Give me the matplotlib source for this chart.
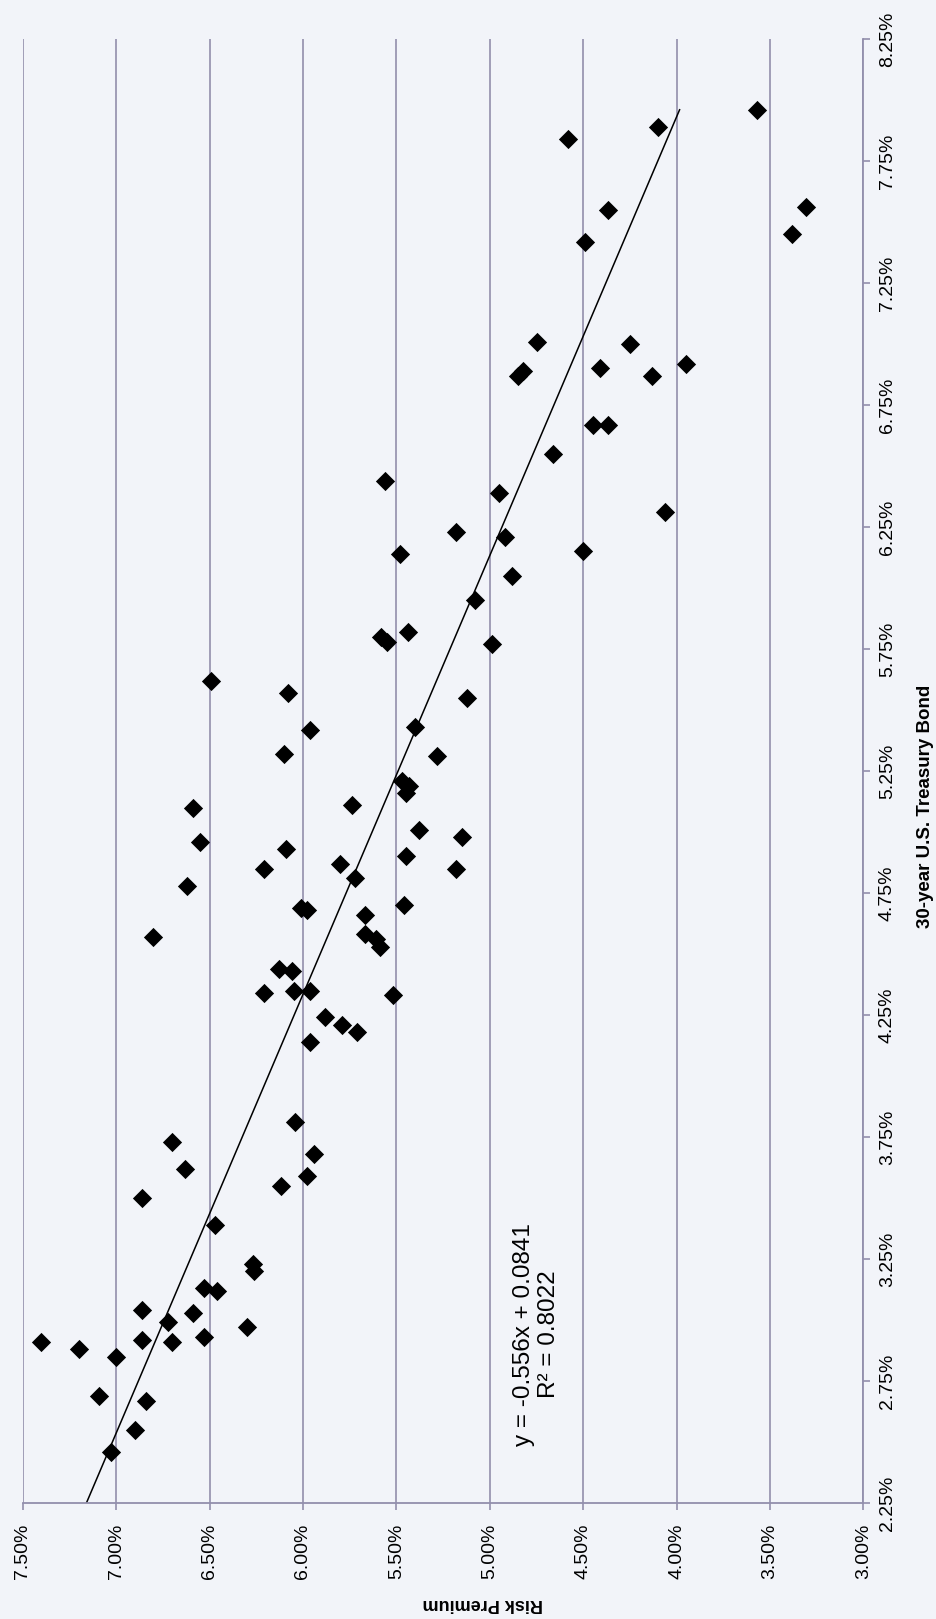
import numpy as np
import matplotlib
matplotlib.use("Agg")
import matplotlib.pyplot as plt

# risk premium (%) vs 30-year treasury yield (%)
risk_premium = [3.57, 4.10, 4.58, 4.37, 3.31, 3.38, 4.49, 4.75, 4.25, 4.85, 4.82, 4.41, 4.13, 3.95,
                4.45, 4.37, 4.66, 5.56, 4.95, 4.06, 5.18, 4.92, 5.48, 4.50, 4.88, 5.08, 5.58, 5.55,
                5.44, 4.99, 6.49, 6.08, 5.12, 5.96, 5.40, 6.10, 5.28, 5.47, 5.43, 5.45, 6.59, 5.74,
                5.38, 6.55, 5.15, 6.09, 5.45, 6.21, 5.80, 5.18, 5.72, 6.62, 6.01, 5.98, 5.46, 5.67,
                6.80, 5.67, 5.61, 5.59, 6.13, 6.06, 6.21, 6.05, 5.96, 5.52, 5.88, 5.79, 5.71, 5.96,
                6.04, 6.70, 6.63, 5.94, 5.98, 6.12, 6.86, 6.47, 6.27, 6.26, 6.53, 6.46, 6.59, 6.86,
                6.72, 6.30, 6.86, 6.70, 6.53, 7.40, 7.20, 7.00, 7.09, 6.84, 6.90, 7.03]
treasury = [7.96, 7.89, 7.84, 7.55, 7.56, 7.45, 7.42, 7.01, 7.00, 6.87, 6.89, 6.90, 6.87, 6.92,
            6.67, 6.67, 6.55, 6.44, 6.39, 6.31, 6.23, 6.21, 6.14, 6.15, 6.05, 5.95, 5.80, 5.78,
            5.82, 5.77, 5.62, 5.57, 5.55, 5.42, 5.43, 5.32, 5.31, 5.21, 5.19, 5.16, 5.10, 5.11,
            5.01, 4.96, 4.98, 4.93, 4.90, 4.85, 4.87, 4.85, 4.81, 4.78, 4.69, 4.68, 4.70, 4.66,
            4.57, 4.58, 4.56, 4.53, 4.44, 4.43, 4.34, 4.35, 4.35, 4.33, 4.24, 4.21, 4.18, 4.14,
            3.81, 3.73, 3.62, 3.68, 3.59, 3.55, 3.50, 3.39, 3.23, 3.20, 3.13, 3.12, 3.03, 3.04,
            2.99, 2.97, 2.92, 2.91, 2.93, 2.91, 2.88, 2.85, 2.69, 2.67, 2.55, 2.46]

# trendline shown on the chart
slope = -0.556
intercept = 0.0841
r_squared = 0.8022

rp_ticks = [7.50, 7.00, 6.50, 6.00, 5.50, 5.00, 4.50, 4.00, 3.50, 3.00]
tr_ticks = [2.25, 2.75, 3.25, 3.75, 4.25, 4.75, 5.25, 5.75, 6.25, 6.75, 7.25, 7.75, 8.25]

bg = '#f2f4f9'
line_col = '#928fac'
plt.rcParams['font.family'] = ['Liberation Sans', 'DejaVu Sans']

# the original chart is printed turned a quarter turn, so the axes are swapped here
fig = plt.figure(figsize=(9.37, 16.19), dpi=100, facecolor=bg)
W, H = 937, 1619
x0, x1, y0, y1 = 22.7, 863.5, 39, 1503
ax = fig.add_axes([x0 / W, 1 - y1 / H, (x1 - x0) / W, (y1 - y0) / H])
ax.set_facecolor(bg)

ax.scatter(risk_premium, treasury, marker='D', s=96, color='black', linewidths=0, zorder=3)

t = np.array([2.25, max(treasury)])
ax.plot(intercept * 100 + slope * t, t, color='black', lw=1.1, zorder=2)

ax.set_xlim(7.5, 3.0)
ax.set_ylim(2.25, 8.25)

ax.set_xticks(rp_ticks)
ax.set_xticklabels(['%.2f%%' % v for v in rp_ticks], rotation=90, fontsize=14)
ax.yaxis.tick_right()
ax.set_yticks(tr_ticks)
ax.set_yticklabels(['%.2f%%' % v for v in tr_ticks], rotation=90, va='center', fontsize=14)

ax.tick_params(axis='x', direction='out', length=5, width=1.2, color=line_col, pad=10)
ax.tick_params(axis='y', direction='out', length=5, width=1.2, color=line_col, pad=6)

ax.grid(axis='x', color=line_col, lw=1.2)
ax.set_axisbelow(True)
for side in ['top', 'left']:
    ax.spines[side].set_visible(False)
for side in ['bottom', 'right']:
    ax.spines[side].set_color(line_col)
    ax.spines[side].set_linewidth(1.3)

ax.text(4.75, 2.94, 'y = -0.556x + 0.0841\nR² = 0.8022', rotation=90,
        ha='center', va='center', multialignment='center', fontsize=17.5)

fig.text(926 / W, 1 - 806 / H, '30-year U.S. Treasury Bond', rotation=90,
         ha='center', va='center', fontsize=13.5, fontweight='bold')
fig.text(483 / W, 1 - 1603 / H, 'Risk Premium', rotation=180,
         ha='center', va='center', fontsize=13, fontweight='bold')

fig.savefig('out.png', dpi=100, facecolor=bg)
